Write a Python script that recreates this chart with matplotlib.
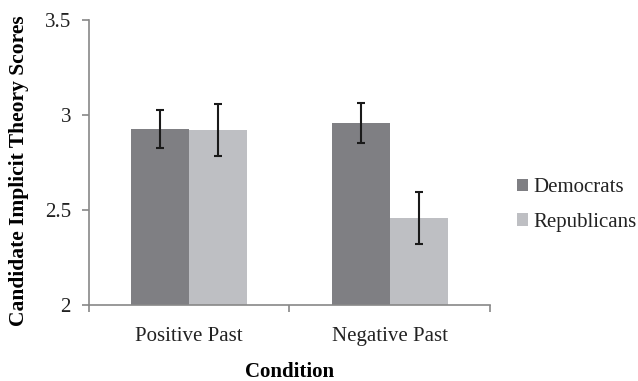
import numpy as np
import matplotlib.pyplot as plt

conditions = ['Positive Past', 'Negative Past']
democrats = [2.926, 2.958]
democrats_err = [0.101, 0.103]
republicans = [2.921, 2.458]
republicans_err = [0.135, 0.138]

plt.rcParams['font.family'] = ['Liberation Serif', 'DejaVu Serif']

fig = plt.figure(figsize=(6.38, 3.81), dpi=100)
ax = fig.add_axes([0.1395, 0.1995, 0.6285, 0.748])

x = np.arange(len(conditions))
width = 0.29
err_kw = dict(ecolor='#1a1a1a', elinewidth=1.5, capsize=3, capthick=1.5)
ax.bar(x - width / 2, np.array(democrats) - 2, width, bottom=2, yerr=democrats_err,
       color='#7f7f83', label='Democrats', error_kw=err_kw)
ax.bar(x + width / 2, np.array(republicans) - 2, width, bottom=2, yerr=republicans_err,
       color='#bebfc3', label='Republicans', error_kw=err_kw)

ax.set_ylim(2, 3.5)
ax.set_xlim(-0.5, 1.5)
ax.set_yticks([2, 2.5, 3, 3.5])
ax.set_yticklabels(['2', '2.5', '3', '3.5'])
# category boundaries get the tick marks, names sit at the centres
ax.set_xticks([-0.5, 0.5, 1.5])
ax.set_xticklabels([])
ax.set_xticks(x, minor=True)
ax.set_xticklabels(conditions, minor=True)
ax.tick_params(axis='x', which='minor', length=0, pad=16, labelsize=15, labelcolor='#222222')
ax.tick_params(axis='x', which='major', length=5, width=1.2, color='#888888', direction='out')
ax.tick_params(axis='y', length=5, width=1.2, color='#888888', labelsize=15, pad=8,
               labelcolor='#222222')

for side in ['top', 'right']:
    ax.spines[side].set_visible(False)
for side in ['left', 'bottom']:
    ax.spines[side].set_color('#888888')
    ax.spines[side].set_linewidth(1.2)

ax.set_ylabel('Candidate Implicit Theory Scores', fontsize=15.5, fontweight='bold')
ax.yaxis.set_label_coords(-0.15, 0.47)
ax.set_xlabel('Condition', fontsize=15, fontweight='bold')
ax.xaxis.set_label_coords(0.5, -0.2)

ax.legend(loc='center left', bbox_to_anchor=(1.067, 0.35), frameon=False, fontsize=15,
          borderaxespad=0, borderpad=0, handlelength=0.55, handleheight=0.55,
          handletextpad=0.25, labelspacing=0.75, labelcolor='#222222')

fig.savefig('out.png', dpi=100)
